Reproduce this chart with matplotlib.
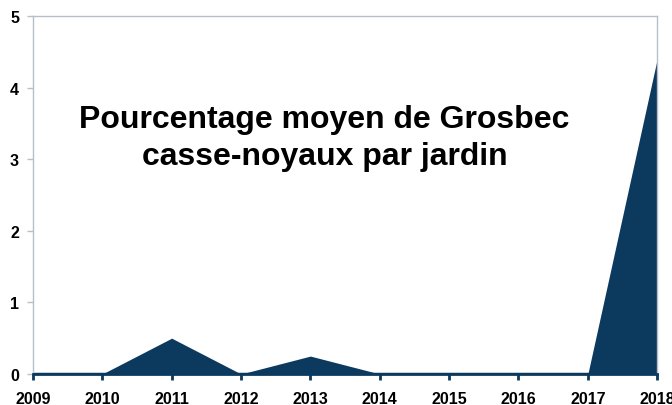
""" Pourcentage moyen de Grosbec casse-noyaux par jardin - area chart. """

import matplotlib
matplotlib.use('Agg')
import matplotlib.pyplot as plt

# Data.
years = [2009, 2010, 2011, 2012, 2013, 2014, 2015, 2016, 2017, 2018]
pourcentage = [0, 0, 0.5, 0, 0.25, 0, 0, 0, 0, 4.4]
y_ticks = [0, 1, 2, 3, 4, 5]
title_lines = ['Pourcentage moyen de Grosbec', 'casse-noyaux par jardin']

navy = '#0c3a5f'
grey = '#b8bec8'

plt.rcParams['font.family'] = ['Liberation Sans', 'DejaVu Sans']

fig = plt.figure(figsize=(6.72, 4.06), dpi=100)
ax = fig.add_axes([0.049, 0.0764, 0.929, 0.882])

ax.fill_between(years, pourcentage, 0, color=navy, linewidth=0)
ax.plot(years, [0] * len(years), color=navy, linewidth=2.5, solid_capstyle='butt')

ax.set_xlim(years[0], years[-1])
ax.set_ylim(0, 5)
ax.set_xticks(years)
ax.set_yticks(y_ticks)
ax.set_xticklabels([str(y) for y in years], fontsize=11.5, fontweight='bold')
ax.set_yticklabels([str(v) for v in y_ticks], fontsize=11.5, fontweight='bold')

for side in ['top', 'right', 'left']:
    ax.spines[side].set_color(grey)
    ax.spines[side].set_linewidth(1)
ax.spines['bottom'].set_color(navy)
ax.spines['bottom'].set_linewidth(2)

ax.tick_params(axis='x', colors=navy, length=4, width=2, pad=8, labelcolor='black')
ax.tick_params(axis='y', colors=grey, length=4, width=1, pad=6, labelcolor='black')

# Title placed inside the plot area, two lines.
fig.text(0.4829, 0.6847, title_lines[0], ha='center', va='baseline',
         fontsize=23, fontweight='bold')
fig.text(0.4829, 0.5936, title_lines[1], ha='center', va='baseline',
         fontsize=23, fontweight='bold')

fig.savefig('out.png', dpi=100)
